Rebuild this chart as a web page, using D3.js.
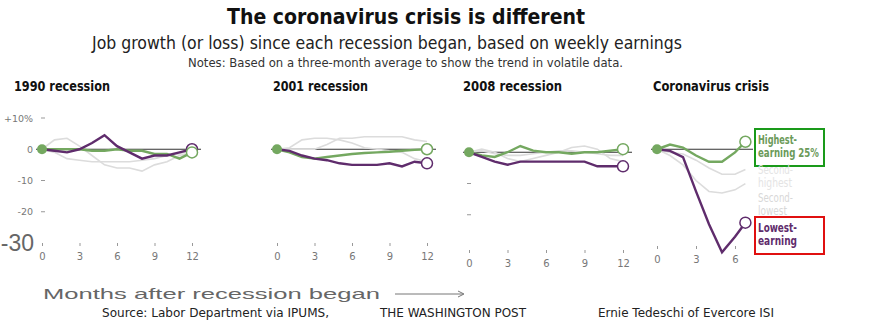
<!DOCTYPE html>
<html>
<head>
<meta charset="utf-8">
<script src="https://cdn.jsdelivr.net/npm/d3@7/dist/d3.min.js"></script>
<style>
  body { margin: 0; background: #fff; }
  svg { display: block; }
</style>
</head>
<body>
<svg id="chart" width="875" height="321"></svg>
<script>
// ── Data ──────────────────────────────────────────────────────────────────────

const panelTitles = ['1990 recession', '2001 recession', '2008 recession', 'Coronavirus crisis'];
const recessionMonths = d3.range(0, 13);
const coronaMonths = [0, 1, 2, 3, 4, 5, 6, 6.8];
const recessionTicks = [0, 3, 6, 9, 12];
const coronaTicks = [0, 3, 6];
const yTicks = [10, 0, -10, -20];
const yTickLabels = ['+10%', '0', '-10', '-20'];

// job change, % since recession began, by earnings quartile
const lowest1990        = [0, -0.5, -1, 0, 2, 4.5, 1, -1, -3, -2, -2, -1, 0];
const secondLowest1990  = [0, 3, 3.5, 1, -2, -5, -6, -6, -7, -5, -4, -2, -1];
const secondHighest1990 = [0, -1, -3, -3.5, -4, -4, -4, -4, -3.5, -3, -2, -1.5, 0];
const highest1990       = [0, 0, 0, 0, -0.5, -0.5, 0, -0.5, -0.5, -1.5, -1.5, -3, -1];

const lowest2001        = [0, -0.5, -2, -3, -3.5, -4.5, -5, -5, -5, -4.5, -5.5, -4, -4.5];
const secondLowest2001  = [0, 0.5, 3, 3.5, 3.5, 3, 2, 0.5, 0, -0.5, -1, -3, -4];
const secondHighest2001 = [0, 0, 0, 0, 1.5, 3.5, 3.5, 4, 4, 4, 4, 3, 2.5];
const highest2001       = [0, -1, -2.5, -3, -2.5, -2, -1.5, -1.2, -1, -0.8, -0.5, -0.2, 0];

const lowest2008        = [0, -1.5, -3, -4, -3, -3, -3, -3, -3, -3, -4.5, -4.5, -4.5];
const secondLowest2008  = [0, 1, 0, -2, -3, -2, -1, 0, 1.5, 2, 1, -2, -3];
const secondHighest2008 = [0, 0.5, -0.5, -1, -1, -0.5, 0, 0.5, 0.5, 0, -0.5, -1, -1];
const highest2008       = [0, -1, -1.5, 0, 2, 0.5, 0, 0, -0.5, 0, 0, 0.5, 1];

const lowestCorona        = [0, -0.5, -2.5, -13.5, -24, -33, -28, -23.5];
const secondLowestCorona  = [0, -2, -5, -10, -13.5, -14, -13, -11];
const secondHighestCorona = [0, -1, -1.5, -3.5, -6, -8, -8, -6.5];
const highestCorona       = [0, 1.5, 0.5, -2, -4, -4, -1, 2.4];

const panels = [
  { months: recessionMonths, ticks: recessionTicks, domain: [0, 12], x0: 42, x1: 192, dy: 0, tickY: 0,
    lowest: lowest1990, secondLowest: secondLowest1990, secondHighest: secondHighest1990, highest: highest1990 },
  { months: recessionMonths, ticks: recessionTicks, domain: [0, 12], x0: 277, x1: 427, dy: 0, tickY: 0,
    lowest: lowest2001, secondLowest: secondLowest2001, secondHighest: secondHighest2001, highest: highest2001 },
  { months: recessionMonths, ticks: recessionTicks, domain: [0, 12], x0: 469, x1: 623, dy: 3, tickY: 7,
    lowest: lowest2008, secondLowest: secondLowest2008, secondHighest: secondHighest2008, highest: highest2008 },
  { months: coronaMonths, ticks: coronaTicks, domain: [0, 6], x0: 657, x1: 735, dy: 0, tickY: 3,
    lowest: lowestCorona, secondLowest: secondLowestCorona, secondHighest: secondHighestCorona, highest: highestCorona }
];

// title position + width for each panel
const titleX = [14, 273, 463, 653];
const titleW = [96, 95, 99, 116];

// ── Styles ────────────────────────────────────────────────────────────────────

const PURPLE = '#5f2c6c';
const GREEN  = '#74a860';
const GRAY   = '#dcdcdc';
const FONT   = "'DejaVu Sans', 'Roboto', sans-serif";

const svg = d3.select('#chart');

// Narrow the stock sans to the width each label takes (newsroom condensed look)
function label(x, y, s, size, width, opts = {}) {
  const t = svg.append('text').attr('x', x).attr('y', y)
    .style('font-family', opts.family || FONT).style('font-size', size + 'px')
    .style('font-weight', opts.bold ? 'bold' : 'normal')
    .attr('fill', opts.fill || '#222').text(s);
  if (width) t.attr('textLength', width).attr('lengthAdjust', 'spacingAndGlyphs');
  return t;
}

// ── Header ────────────────────────────────────────────────────────────────────

label(227, 24, 'The coronavirus crisis is different', 22, 358, { bold: true, fill: '#111' });
label(92, 49, 'Job growth (or loss) since each recession began, based on weekly earnings', 17.5, 590, { fill: '#222' });
label(188, 67, 'Notes: Based on a three-month average to show the trend in volatile data.', 12.5, 435, { fill: '#333' });

// ── Panels ────────────────────────────────────────────────────────────────────

const baseY = d3.scaleLinear().domain([10, -30]).range([118, 243]);

panels.forEach((p, i) => {
  const x = d3.scaleLinear().domain(p.domain).range([p.x0, p.x1]);
  const y = v => baseY(v) + p.dy;
  const g = svg.append('g');

  label(titleX[i], 91, panelTitles[i], 14, titleW[i], { bold: true, fill: '#111' });

  // x axis: short ticks and month labels
  const ax = d3.axisBottom(x).tickValues(p.ticks).tickSize(3).tickPadding(7).tickFormat(d3.format('d'));
  const axG = g.append('g').attr('transform', `translate(0,${243 + p.tickY})`).call(ax);
  axG.select('.domain').remove();
  axG.selectAll('line').attr('stroke', '#999');
  axG.selectAll('text').attr('fill', '#777').style('font-family', FONT).style('font-size', '10px');

  // zero baseline
  const zeroEnd = i === 3 ? 753 : p.x1 + 9;
  g.append('line').attr('x1', p.x0 - 6).attr('x2', zeroEnd).attr('y1', y(0)).attr('y2', y(0))
    .attr('stroke', '#333').attr('stroke-width', 1.2);

  const line = d3.line().x((d, j) => x(p.months[j])).y(d => y(d));
  [p.secondLowest, p.secondHighest].forEach(s => {
    g.append('path').attr('d', line(s)).attr('fill', 'none').attr('stroke', GRAY).attr('stroke-width', 1.6);
  });
  g.append('path').attr('d', line(p.highest)).attr('fill', 'none').attr('stroke', GREEN).attr('stroke-width', 2.4);
  g.append('path').attr('d', line(p.lowest)).attr('fill', 'none').attr('stroke', PURPLE).attr('stroke-width', 2.4);

  const last = p.months.length - 1;
  g.append('circle').attr('cx', x(p.months[last])).attr('cy', y(p.lowest[last])).attr('r', 5.5)
    .attr('fill', '#fff').attr('stroke', PURPLE).attr('stroke-width', 1.5);
  g.append('circle').attr('cx', x(p.months[last])).attr('cy', y(p.highest[last])).attr('r', 5.5)
    .attr('fill', '#fff').attr('stroke', GREEN).attr('stroke-width', 1.5);
  g.append('circle').attr('cx', x(0)).attr('cy', y(0)).attr('r', 5).attr('fill', GREEN);

  // y axis labels on the first panel only
  if (i === 0) {
    yTicks.forEach((t, k) => {
      label(33, y(t) + 3.5, yTickLabels[k], 9.5, null, { fill: '#777' }).attr('text-anchor', 'end');
      if (t !== 0) g.append('line').attr('x1', 41).attr('x2', 45).attr('y1', y(t)).attr('y2', y(t))
        .attr('stroke', '#999');
    });
    label(34, y(-30) + 8, '-30', 23, null, { fill: '#666', family: "'Liberation Sans', Arial, sans-serif" })
      .attr('text-anchor', 'end');
  }
  if (i === 2) {
    [-10, -20].forEach(t => g.append('line').attr('x1', 467).attr('x2', 471)
      .attr('y1', y(t)).attr('y2', y(t)).attr('stroke', '#999'));
  }
});

// ── Series labels on the coronavirus panel ───────────────────────────────────

const seriesLabels = [
  { lines: ['Highest-', 'earning 25%'], widths: [39, 61], y: 144, color: '#6b9a59', bold: true, box: '#1a9a1a' },
  { lines: ['Second-', 'highest'], widths: [35, 34], y: 174, color: '#e4e4e4', bold: false },
  { lines: ['Second-', 'lowest'], widths: [35, 29], y: 202, color: '#d8d8d8', bold: false },
  { lines: ['Lowest-', 'earning'], widths: [39, 39], y: 232, color: PURPLE, bold: true, box: '#e01010' }
];
seriesLabels.forEach(l => {
  l.lines.forEach((s, k) => label(758, l.y + k * 13, s, 12, l.widths[k], { bold: l.bold, fill: l.color }));
  if (l.box) svg.append('rect').attr('x', 755).attr('y', l.y - 15).attr('width', 69).attr('height', 37)
    .attr('fill', 'none').attr('stroke', l.box).attr('stroke-width', 2);
});

// ── Footer ────────────────────────────────────────────────────────────────────

label(43, 299, 'Months after recession began', 15, 337, { fill: '#666', family: "'Liberation Sans', Arial, sans-serif" });
svg.append('line').attr('x1', 395).attr('x2', 463).attr('y1', 294).attr('y2', 294).attr('stroke', '#777');
svg.append('path').attr('d', 'M458,291 L464,294 L458,297').attr('fill', 'none').attr('stroke', '#777');

label(102, 317, 'Source: Labor Department via IPUMS,', 13, 227, { fill: '#222' });
label(380, 317, 'THE WASHINGTON POST', 13, 146, { fill: '#222' });
label(598, 317, 'Ernie Tedeschi of Evercore ISI', 13, 176, { fill: '#222' });
</script>
</body>
</html>
